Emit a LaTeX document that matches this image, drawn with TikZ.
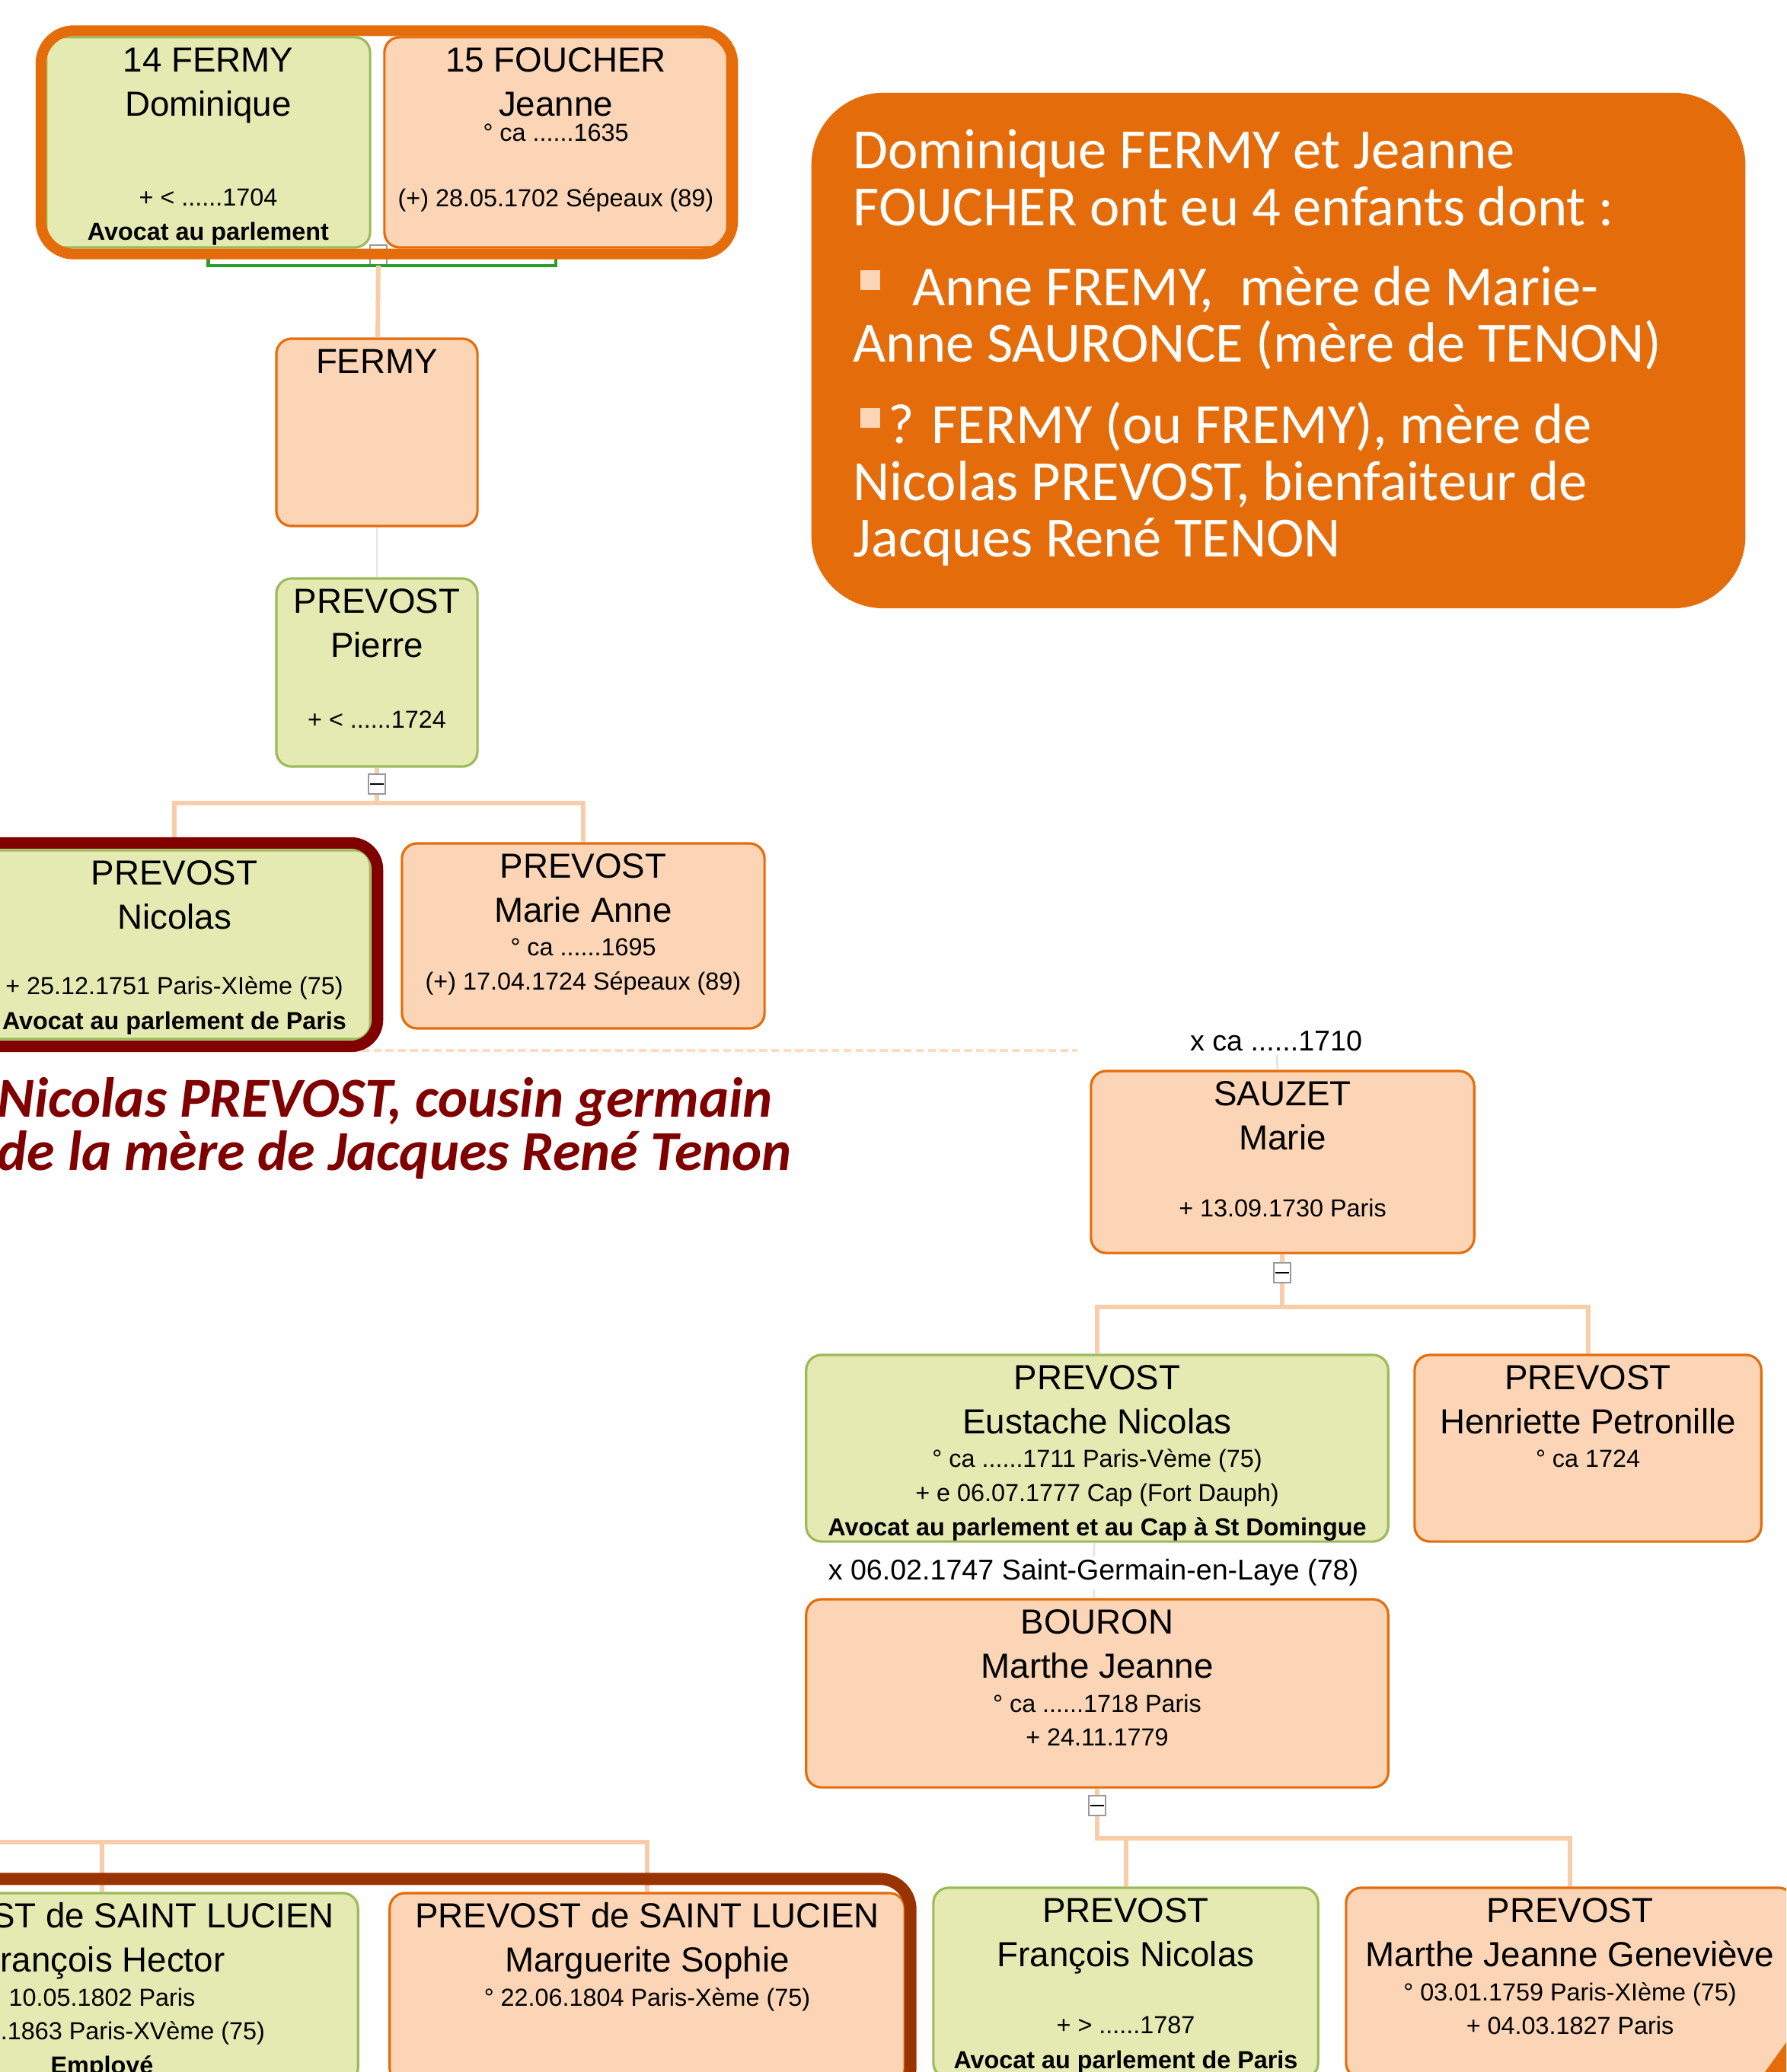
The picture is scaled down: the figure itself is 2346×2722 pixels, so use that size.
\documentclass[tikz,border=0pt]{standalone}
\usepackage{fontspec}
\setmainfont{Liberation Sans}
\newfontfamily\calib{Carlito}
\usetikzlibrary{positioning,fit,calc}

\definecolor{greenfill}{HTML}{E4EAB2}
\definecolor{greenline}{HTML}{9BBB59}
\definecolor{peachfill}{HTML}{FBD5B5}
\definecolor{orangeline}{HTML}{E46C0A}
\definecolor{calloutorange}{HTML}{E46C0A}
\definecolor{linkpeach}{HTML}{F9CDAA}
\definecolor{nicolasred}{HTML}{800000}
\definecolor{lucienbrown}{HTML}{993300}
\definecolor{couplegreen}{HTML}{2E9B2E}

% fiche{width}{height}{extra gap}{surname}{first names}{details}
\newcommand{\fiche}[6]{%
  \begin{minipage}[t][#2][t]{#1}\centering
  {\fontsize{13}{16.5}\selectfont\rule{0pt}{12.9pt}#4\\#5\par}%
  \vspace{#3}%
  {\fontsize{9.2}{12.7}\selectfont #6\par}%
  \end{minipage}}
\newcommand{\puce}{\textcolor{peachfill}{\rule[5.9pt]{7.6pt}{7.4pt}}}

\begin{document}
\begin{tikzpicture}[
    x=0.01cm, y=-0.01cm,
    person/.style={draw, rounded corners=0.2cm, line width=0.9pt, inner sep=0pt},
    male/.style={person, fill=greenfill, draw=greenline},
    female/.style={person, fill=peachfill, draw=orangeline},
    fold/.style={draw=gray!80, fill=white, line width=0.5pt, minimum width=0.22cm, minimum height=0.26cm, inner sep=0pt},
    link/.style={draw=linkpeach, line width=1.7pt},
    faint/.style={draw=gray!20, line width=0.8pt},
    wedding/.style={font=\fontsize{10.7}{12}\selectfont, inner sep=1pt},
    hilite/.style={draw=#1, line width=4.3pt, rounded corners=0.4cm}
  ]
  \useasboundingbox (0,0) rectangle (2346,2722);
  \clip (0,0) rectangle (2346,2722);
  \fill[white] (0,0) rectangle (2346,2722);

  % top couple
  \node[male] (dominique) at (273.5,187) {\fiche{4.25cm}{2.76cm}{21pt}{14 FERMY}{Dominique}{+ < ......1704\\\textbf{Avocat au parlement}}};
  \node[female] (foucher) at (730,187) {\fiche{4.50cm}{2.76cm}{-3.4pt}{15 FOUCHER}{Jeanne}{° ca ......1635\\[11.8pt](+) 28.05.1702 Sépeaux (89)}};
  \node[female] (fermy) at (495,568) {\fiche{2.64cm}{2.46cm}{0pt}{FERMY}{\mbox{}}{}};
  \node[male] (pierre) at (495,883.5) {\fiche{2.64cm}{2.47cm}{13.7pt}{PREVOST}{Pierre}{+ < ......1724}};
  \node[male] (nicolas) at (229,1241) {\fiche{5.14cm}{2.48cm}{11.7pt}{PREVOST}{Nicolas}{+ 25.12.1751 Paris-XIème (75)\\[0.4pt]\textbf{Avocat au parlement de Paris}}};
  \node[female] (marieanne) at (766,1229.5) {\fiche{4.76cm}{2.43cm}{0pt}{PREVOST}{Marie Anne}{° ca ......1695\\(+) 17.04.1724 Sépeaux (89)}};

  % right branch
  \node[female] (sauzet) at (1684.5,1526.5) {\fiche{5.03cm}{2.39cm}{12.3pt}{SAUZET}{Marie}{+ 13.09.1730 Paris}};
  \node[male] (eustache) at (1441,1902.5) {\fiche{7.64cm}{2.45cm}{0pt}{PREVOST}{Eustache Nicolas}{° ca ......1711 Paris-Vème (75)\\+ e 06.07.1777 Cap (Fort Dauph)\\\textbf{Avocat au parlement et au Cap à St Domingue}}};
  \node[female] (henriette) at (2085.5,1902.5) {\fiche{4.55cm}{2.45cm}{0pt}{PREVOST}{Henriette Petronille}{° ca 1724}};
  \node[female] (bouron) at (1441,2224.5) {\fiche{7.64cm}{2.47cm}{0pt}{BOURON}{Marthe Jeanne}{° ca ......1718 Paris\\+ 24.11.1779}};
  \node[male] (francois) at (1478.5,2605) {\fiche{5.05cm}{2.50cm}{12.3pt}{PREVOST}{François Nicolas}{+ > ......1787\\[0.4pt]\textbf{Avocat au parlement de Paris}}};
  \node[female] (genevieve) at (2062,2605) {\fiche{5.88cm}{2.50cm}{0pt}{PREVOST}{Marthe Jeanne Geneviève}{° 03.01.1759 Paris-XIème (75)\\+ 04.03.1827 Paris}};

  % bottom left
  \node[male] (hector) at (134,2612) {\fiche{6.72cm}{2.50cm}{0pt}{PREVOST de SAINT LUCIEN}{François Hector}{10.05.1802 Paris\\\hspace*{23pt}.1863 Paris-XVème (75)\\\textbf{Employé}}};
  \node[female] (marguerite) at (850,2612) {\fiche{6.76cm}{2.50cm}{0pt}{PREVOST de SAINT LUCIEN}{Marguerite Sophie}{° 22.06.1804 Paris-Xème (75)}};

  % fold marks
  \node[fold] (cminus) at (497,335) {\rule{5pt}{0.6pt}};
  \node[fold] (pminus) at (495,1030) {\rule{5pt}{0.6pt}};
  \node[fold] (sminus) at (1684,1672) {\rule{5pt}{0.6pt}};
  \node[fold] (bminus) at (1441,2372) {\rule{5pt}{0.6pt}};

  % marriage labels
  \node[wedding] (mar1) at (1676,1368) {x ca ......1710};
  \node[wedding] (mar2) at (1436,2066) {x 06.02.1747 Saint-Germain-en-Laye (78)};

  % links
  \draw[couplegreen, line width=1.2pt] (dominique.south) -- ++(0,22) -| (foucher.south);
  \draw[link] (cminus) -- (fermy);
  \draw[faint] (fermy) -- (pierre);
  \draw[link] (pierre) -- (pminus);
  \draw[link] (pminus.south) -- ++(0,11) coordinate (pfork) -| (nicolas.north);
  \draw[link] (pfork) -| (marieanne.north);
  \draw[faint] (mar1) -- (sauzet);
  \draw[link] (sauzet) -- (sminus);
  \draw[link] (sminus.south) -- ++(0,31) coordinate (sfork) -| (eustache.north);
  \draw[link] (sfork) -| (henriette.north);
  \draw[faint] (eustache) -- (mar2);
  \draw[faint] (mar2) -- (bouron);
  \draw[link] (bouron) -- (bminus);
  \draw[link] (bminus.south) -- ++(0,29) coordinate (bfork) -| (francois.north);
  \draw[link] (bfork) -| (genevieve.north);
  \coordinate (hfork) at (-30,2420);
  \draw[link] (hfork) -| (hector.north);
  \draw[link] (hfork) -| (marguerite.north);

  \draw[linkpeach!70, line width=1.4pt, dash pattern=on 3pt off 1.5pt] (0,1380) -- (1415,1380);

  % frames
  \node[hilite=calloutorange, line width=4pt, rounded corners=0.43cm, fit=(dominique)(foucher), inner xsep=0.055cm, inner ysep=0.07cm] (coupleframe) {};
  \node[hilite=nicolasred, rounded corners=0.35cm, fit=(nicolas), inner sep=0.08cm] (nicolasframe) {};
  \node[hilite=lucienbrown, line width=4.5pt, fit=(hector)(marguerite), inner xsep=0.06cm, inner ysep=0.17cm] (lucienframe) {};

  % notes
  \node[anchor=north west, inner sep=0pt, align=left, text=nicolasred,
        font=\calib\bfseries\itshape\fontsize{21.1}{19.8}\selectfont] (cousinnote) at (-4,1415)
        {Nicolas PREVOST, cousin germain\\de la mère de Jacques René Tenon};

  \node[fill=calloutorange, rounded corners=0.95cm, minimum width=12.26cm, minimum height=6.77cm] (callout) at (1679,460.5) {};
  \node[anchor=north west, inner sep=0pt, align=left, text=white,
        font=\calib\fontsize{21.2}{21.1}\selectfont] (callouttext) at (1120,170)
        {Dominique FERMY et Jeanne\\FOUCHER ont eu 4 enfants dont :\\[8.8pt]%
         \hspace*{2.5pt}\puce\hspace{12pt}Anne FREMY,\ \ mère de Marie-\\Anne SAURONCE (mère de TENON)\\[9.4pt]%
         \hspace*{2.5pt}\puce\hspace{3pt}? FERMY (ou FREMY), mère de\\Nicolas PREVOST, bienfaiteur de\\Jacques René TENON};

  \fill[calloutorange] (2318,2722) -- (2346,2683) -- (2346,2722) -- cycle;
\end{tikzpicture}
\end{document}
